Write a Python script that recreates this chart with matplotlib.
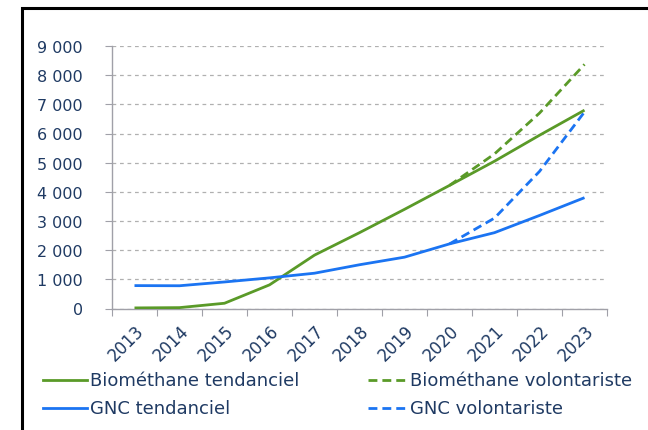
import matplotlib
matplotlib.use("Agg")
import matplotlib.pyplot as plt
from matplotlib.lines import Line2D
from matplotlib.patches import Rectangle
import numpy as np

years = ["2013", "2014", "2015", "2016", "2017", "2018", "2019", "2020", "2021", "2022", "2023"]
bio_tend = [20, 30, 180, 810, 1830, 2600, 3400, 4220, 5050, 5940, 6800]
gnc_tend = [785, 780, 910, 1050, 1210, 1500, 1760, 2215, 2600, 3190, 3800]
bio_vol_years = ["2020", "2021", "2022", "2023"]
bio_vol = [4220, 5300, 6700, 8370]
gnc_vol_years = ["2020", "2021", "2022", "2023"]
gnc_vol = [2215, 3100, 4700, 6740]
yticks = [0, 1000, 2000, 3000, 4000, 5000, 6000, 7000, 8000, 9000]
ytick_labels = ["0", "1 000", "2 000", "3 000", "4 000", "5 000", "6 000", "7 000", "8 000", "9 000"]

GREEN = "#5a9a28"
BLUE = "#1b74f2"
TXT = "#1f3a63"
FONT = "DejaVu Sans"

W, H = 648, 431
fig = plt.figure(figsize=(W / 100, H / 100), dpi=100)
fig.patch.set_facecolor("white")

ax = fig.add_axes([112 / W, 1 - 309.5 / H, (607 - 112) / W, (309.5 - 47) / H])
x = np.arange(len(years))
idx = {y: i for i, y in enumerate(years)}

DASH = (0, (3.2, 1.8))
ax.plot(x, bio_tend, color=GREEN, lw=2.0, solid_capstyle="butt", zorder=3)
ax.plot(x, gnc_tend, color=BLUE, lw=2.0, solid_capstyle="butt", zorder=3)
ax.plot([idx[y] for y in bio_vol_years], bio_vol, color=GREEN, lw=2.0, ls=DASH, zorder=2)
ax.plot([idx[y] for y in gnc_vol_years], gnc_vol, color=BLUE, lw=2.0, ls=DASH, zorder=2)

ax.set_xlim(-0.5, len(years) - 0.5)
ax.set_ylim(0, 9000)
ax.set_yticks(yticks)
ax.set_yticklabels(ytick_labels, fontsize=11.5, color=TXT, family=FONT)
ax.set_xticks(np.arange(len(years) + 1) - 0.5, minor=False)
ax.set_xticklabels([])
ax.set_xticks(x, minor=True)
ax.set_xticklabels(years, minor=True, rotation=45, ha="right", va="top",
                   fontsize=12, color=TXT, family=FONT, rotation_mode="anchor")
ax.tick_params(axis="x", which="minor", length=0, pad=9)
ax.tick_params(axis="x", which="major", length=5, color="#a0a0a8", direction="out")
ax.tick_params(axis="y", length=5, color="#a0a0a8", direction="out", pad=16)

ax.grid(axis="y", ls=(0, (3, 3)), color="#b0b0b0", lw=0.9)
ax.set_axisbelow(True)
for s in ["top", "right"]:
    ax.spines[s].set_visible(False)
for s in ["left", "bottom"]:
    ax.spines[s].set_color("#a0a0a8")
    ax.spines[s].set_linewidth(1.0)

# legend (manual layout)
def leg(x0, x1, y, color, ls, label):
    fig.add_artist(Line2D([x0 / W, x1 / W], [1 - y / H, 1 - y / H], color=color, lw=2.0, ls=ls))
    fig.text((x1 + 3) / W, 1 - y / H, label, fontsize=13, color=TXT, family=FONT,
             ha="left", va="center")

leg(43, 87, 381, GREEN, "-", "Biométhane tendanciel")
leg(368, 407, 381, GREEN, DASH, "Biométhane volontariste")
leg(43, 87, 409, BLUE, "-", "GNC tendanciel")
leg(368, 407, 409, BLUE, DASH, "GNC volontariste")

# outer frame
fig.add_artist(Rectangle((21.5 / W, -0.1), 1.2, (1 - 8.5 / H) + 0.1, transform=fig.transFigure,
                         fill=False, edgecolor="black", lw=2.2, clip_on=False))

fig.savefig("out.png", dpi=100, facecolor="white")
